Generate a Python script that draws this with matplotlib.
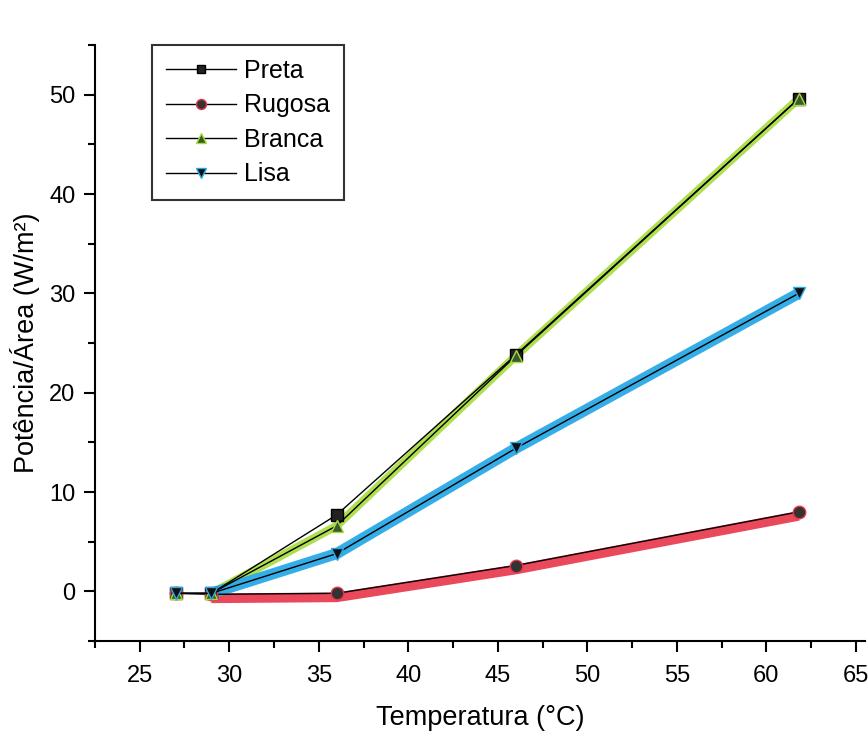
import matplotlib.pyplot as plt
from matplotlib.ticker import MultipleLocator

plt.rcParams['font.family'] = ['Liberation Sans', 'DejaVu Sans']

# Dados
temperatura = [27, 29, 36, 46, 61.8]
preta = [-0.2, -0.2, 7.7, 23.8, 49.6]
rugosa = [-0.2, -0.3, -0.2, 2.6, 8.0]
branca = [-0.2, -0.2, 6.6, 23.7, 49.6]
lisa = [-0.2, -0.2, 3.8, 14.4, 30.0]

fig = plt.figure(figsize=(8.68, 7.33), dpi=100)
ax = fig.add_axes([0.1094, 0.1255, 0.887, 0.813])

# marcação colorida (tipo marca-texto) por baixo das linhas
ax.plot(temperatura[1:], [v - 0.4 for v in rugosa[1:]], color='#e8354a', lw=7, alpha=0.9,
        solid_capstyle='butt', zorder=1)
ax.plot(temperatura[1:], branca[1:], color='#a6dc3c', lw=6, alpha=0.9, solid_capstyle='butt', zorder=1)
ax.plot(temperatura[1:], lisa[1:], color='#2aa9e6', lw=8, alpha=0.95, solid_capstyle='butt', zorder=1)

ax.plot(temperatura, preta, color='black', lw=1, marker='s', ms=8, mfc='#222222', mec='black',
        label='Preta', zorder=3)
ax.plot(temperatura, rugosa, color='black', lw=1, marker='o', ms=9, mfc='#333333', mec='#e8354a',
        label='Rugosa', zorder=3)
ax.plot(temperatura, branca, color='black', lw=1, marker='^', ms=9, mfc='#3a5a30', mec='#a6dc3c',
        label='Branca', zorder=3)
ax.plot(temperatura, lisa, color='black', lw=1, marker='v', ms=9, mfc='#111111', mec='#2aa9e6',
        label='Lisa', zorder=3)

ax.set_xlim(22.5, 65.5)
ax.set_ylim(-5, 55)
ax.xaxis.set_minor_locator(MultipleLocator(2.5))
ax.yaxis.set_minor_locator(MultipleLocator(5))
ax.set_yticks([0, 10, 20, 30, 40, 50])
ax.set_xticks([25, 30, 35, 40, 45, 50, 55, 60, 65])

ax.spines['top'].set_visible(False)
ax.spines['right'].set_visible(False)
ax.spines['left'].set_linewidth(1.5)
ax.spines['bottom'].set_linewidth(1.5)
ax.tick_params(which='major', direction='out', length=8, width=1.5, labelsize=17, pad=6)
ax.tick_params(axis='x', which='major', pad=9)
ax.tick_params(which='minor', direction='out', length=5, width=1.5)

ax.set_xlabel('Temperatura (°C)', fontsize=19.5, labelpad=13)
ax.set_ylabel('Potência/Área (W/m²)', fontsize=19.5, labelpad=7)

leg = ax.legend(loc='upper left', bbox_to_anchor=(0.074, 1.0), borderaxespad=0, fontsize=18,
                frameon=True, fancybox=False, edgecolor='black', handlelength=2.8,
                handletextpad=0.35, borderpad=0.55, labelspacing=0.42, markerscale=0.8)
leg.get_frame().set_linewidth(1.5)

fig.savefig('out.png', dpi=100)
